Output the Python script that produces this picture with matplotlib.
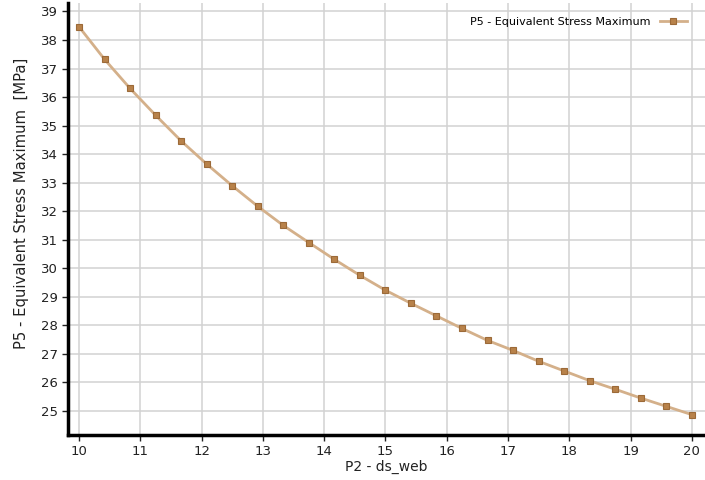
import matplotlib
matplotlib.use("Agg")
import matplotlib.pyplot as plt

# parameter sweep: P2 - ds_web vs P5 - Equivalent Stress Maximum
ds_web = [10.0, 10.4167, 10.8333, 11.25, 11.6667, 12.0833, 12.5, 12.9167, 13.3333,
          13.75, 14.1667, 14.5833, 15.0, 15.4167, 15.8333, 16.25, 16.6667, 17.0833,
          17.5, 17.9167, 18.3333, 18.75, 19.1667, 19.5833, 20.0]
stress_max = [38.46, 37.32, 36.30, 35.36, 34.46, 33.65, 32.89, 32.17, 31.50,
              30.90, 30.31, 29.75, 29.23, 28.77, 28.33, 27.89, 27.47, 27.12,
              26.74, 26.40, 26.06, 25.76, 25.45, 25.16, 24.87]
x_ticks = list(range(10, 21))
y_ticks = list(range(25, 40))

fig = plt.figure(figsize=(7.05, 4.8), dpi=100)
ax = fig.add_axes([0.0965, 0.094, 0.903, 0.9])

ax.plot(ds_web, stress_max, color="#d4b08a", linewidth=2,
        marker="s", markersize=5, markerfacecolor="#b8824a",
        markeredgecolor="#9c6a38", markeredgewidth=0.8,
        label="P5 - Equivalent Stress Maximum")

ax.set_xlim(9.82, 20.21)
ax.set_ylim(24.16, 39.3)
ax.set_xticks(x_ticks)
ax.set_yticks(y_ticks)
ax.grid(True, color="#d2d2d2", linewidth=1.1)
ax.set_axisbelow(True)

for s in ["top", "right"]:
    ax.spines[s].set_visible(False)
for s in ["left", "bottom"]:
    ax.spines[s].set_linewidth(2.5)
    ax.spines[s].set_color("black")

ax.tick_params(labelsize=9.5, length=4, width=1, colors="#222222")
ax.set_xlabel("P2 - ds_web", fontsize=10, color="#222222", labelpad=1)
ax.set_ylabel("P5 - Equivalent Stress Maximum  [MPa]", fontsize=10.6,
              color="#222222")
ax.yaxis.set_label_coords(-0.061, 0.535)

ax.legend(loc="upper right", frameon=False, fontsize=8, markerfirst=False,
          handlelength=2.5, borderaxespad=0.3, bbox_to_anchor=(0.985, 0.985))

fig.savefig("out.png", dpi=100)
